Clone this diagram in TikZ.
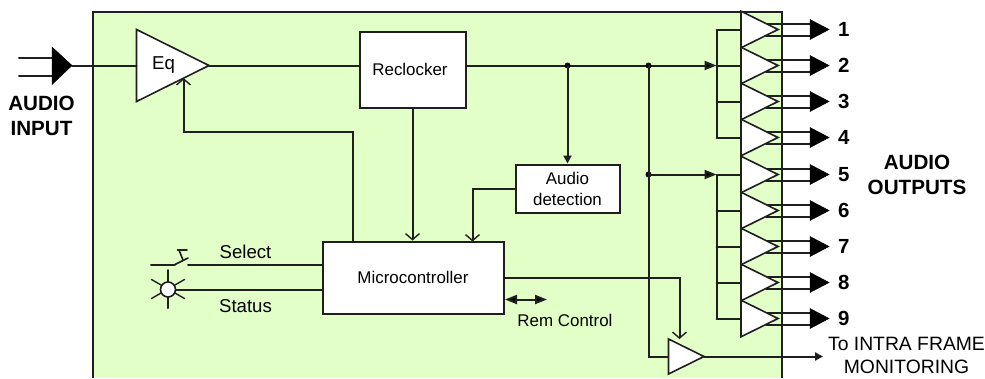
\documentclass[tikz,border=0pt]{standalone}
\usepackage{fontspec}
\setmainfont{Liberation Sans}
\usetikzlibrary{arrows.meta,calc}
\definecolor{panel}{HTML}{E2FFC8}
\tikzset{
  x=1bp,y=-1bp,
  wire/.style={line width=2bp,black!88,line cap=round},
  openarrow/.style={wire,-{Straight Barb[length=6bp,width=14bp,line width=1.4bp]}},
  solidarrow/.style={wire,-{Triangle[length=12bp,width=9bp,fill=black]}},
  smallarrow/.style={wire,-{Triangle[length=8bp,width=8bp,fill=black]}},
  block/.style={draw=black!88,line width=2bp,fill=white,inner sep=0pt,font=\fontsize{17}{21}\selectfont,align=center},
  amp/.style={draw=black!88,line width=1.6bp,fill=white,line join=miter},
  bighead/.style={fill=black,draw=black,line width=0.5bp},
  lab/.style={inner sep=0pt,font=\fontsize{17}{23}\selectfont,align=center},
  biglab/.style={inner sep=0pt,font=\fontsize{18.7}{23}\selectfont,align=center},
  monlab/.style={inner sep=0pt,font=\fontsize{19.4}{23}\selectfont,align=center},
  boldlab/.style={inner sep=0pt,font=\fontsize{20.7}{24.5}\selectfont\bfseries,align=center},
  numlab/.style={inner sep=0pt,anchor=west,font=\fontsize{20.5}{24}\selectfont\bfseries},
  dot/.style={circle,fill=black,inner sep=0pt,minimum size=6bp},
}
\begin{document}
\begin{tikzpicture}
\useasboundingbox (0,0) rectangle (985,378);
% panel
\fill[panel] (92.5,11.5) rectangle (781.5,378);
\draw[wire,line cap=butt] (92.5,378) -- (92.5,11.5) -- (781.5,11.5) -- (781.5,378);
% blocks
\node[block,minimum width=106bp,minimum height=76bp] (recl) at (412.5,69.5) {Reclocker\hspace{5bp}};
\node[block,minimum width=104bp,minimum height=48bp] (det) at (567.5,188.5) {Audio\\detection};
\node[block,minimum width=181bp,minimum height=72bp] (mcu) at (413,277.5) {Microcontroller};
% Eq amplifier
\coordinate (eqin) at (136.5,65.5);
\coordinate (eqtip) at (209,65.5);
\draw[amp] (136.5,29.5) -- (eqtip) -- (136.5,101.5) -- cycle;
\node[biglab] (eq) at (163.5,65) {Eq};
% input
\coordinate (ia) at (19,57.5);
\coordinate (ib) at (19,75.5);
\coordinate (iaend) at (56,57.5);
\coordinate (ibend) at (56,75.5);
\draw[wire] (ia) -- (iaend);
\draw[wire] (ib) -- (ibend);
\coordinate (inhead) at (72,65.5);
\draw[bighead] (52,47) -- (inhead) -- (52,84.5) -- cycle;
\draw[wire] (inhead) -- (eqin);
\node[boldlab] (inlab) at (41.5,116) {AUDIO\\INPUT};
% main line
\draw[wire] (eqtip) -- (recl.west |- eqtip);
\coordinate (busA) at (716.5,65.5);
\coordinate (busB) at (716.5,174.5);
\coordinate (da) at (567.5,65.5);
\coordinate (db) at (648.5,65.5);
\coordinate (dc) at (648.5,174.5);
\draw[solidarrow] (recl.east |- busA) -- (busA);
\node[dot] (dota) at (da) {};
\node[dot] (dotb) at (db) {};
\node[dot] (dotc) at (dc) {};
\draw[smallarrow] (da) -- (det.north);
\draw[solidarrow] (dc) -- (busB);
% output amps
\foreach \i/\y in {1/29.5,2/65.5,3/101.5,4/137.5,5/174.5,6/210.5,7/246.5,8/282.5,9/318.5}{
  \coordinate (in\i) at (741,\y);
  \coordinate (bus\i) at (716.5,\y);
  \coordinate (tip\i) at (778,\y);
  \coordinate (head\i) at (829,\y);
  \draw[wire] (bus\i) -- (in\i);
  \draw[wire] (766,\y-6) -- (812,\y-6);
  \draw[wire] (766,\y+6) -- (812,\y+6);
  \draw[bighead] (810,\y-10) -- (head\i) -- (810,\y+10) -- cycle;
  \node[numlab] (n\i) at (838,\y) {\i};
}
\draw[wire,line cap=butt] (bus1) -- (bus4);
\draw[wire,line cap=butt] (bus5) -- (bus9);
\foreach \i/\y in {1/29.5,2/65.5,3/101.5,4/137.5,5/174.5,6/210.5,7/246.5,8/282.5,9/318.5}{
  \draw[amp] (741,\y-18.3) -- (tip\i) -- (741,\y+18.3) -- cycle;
}
\node[boldlab] (outlab) at (917,175) {AUDIO\\OUTPUTS};
% monitoring amp
\coordinate (min) at (668.5,356.5);
\coordinate (mtip) at (704,356.5);
\coordinate (mtop) at (679.5,339);
\coordinate (mout) at (823,356.5);
\draw[wire] (db) -- (648.5,356.5) -- (min);
\draw[amp] (668.5,339) -- (mtip) -- (668.5,374) -- cycle;
\draw[smallarrow] (mtip) -- (mout);
\node[monlab] (mon) at (906.5,355.5) {To INTRA FRAME\\MONITORING};
% control connections
\draw[openarrow] (recl.south) -- (recl.south |- mcu.north);
\coordinate (eqfb) at (183.5,78);
\draw[openarrow] (352.5,241.5) -- (352.5,131.5) -- (183.5,131.5) -- (eqfb);
\draw[openarrow] (det.west) -- (472.5,188.5) -- (472.5,241.5);
\draw[openarrow] (mcu.east |- 0,277.5) -- (679.5,277.5) -- (mtop);
% rem control
\coordinate (rema) at (505,299.5);
\coordinate (remb) at (547,299.5);
\draw[wire,{Triangle[length=12bp,width=9bp,fill=black]}-{Triangle[length=12bp,width=9bp,fill=black]}] (rema) -- (remb);
\node[lab] (rem) at (565,320) {Rem Control};
% switch and lamp
\coordinate (swa) at (151,264.5);
\coordinate (swb) at (175,264.5);
\draw[wire] (swa) -- (swb);
\draw[wire,line width=1.6bp] (swb) -- (188,258);
\draw[wire,line width=1.6bp] (183,260) -- (179,250);
\draw[wire,line width=1.6bp] (177.5,250) -- (187,250);
\draw[wire] (188,264.5) -- (mcu.west |- 0,264.5);
\node[biglab] (sel) at (245.5,252) {Select};
\coordinate (lamp) at (168,289.5);
\draw[wire] (168,270) -- (168,308);
\draw[wire,line width=1.4bp] (151.5,279.5) -- (184.5,298.5);
\draw[wire,line width=1.4bp] (151.5,298.5) -- (184.5,279.5);
\node[circle,draw=black!88,line width=1.6bp,fill=white,minimum size=15bp,inner sep=0pt] (lampc) at (lamp) {};
\draw[wire] (lampc) -- (mcu.west |- lamp);
\node[biglab] (sta) at (245.5,306) {Status};
\end{tikzpicture}
\end{document}
